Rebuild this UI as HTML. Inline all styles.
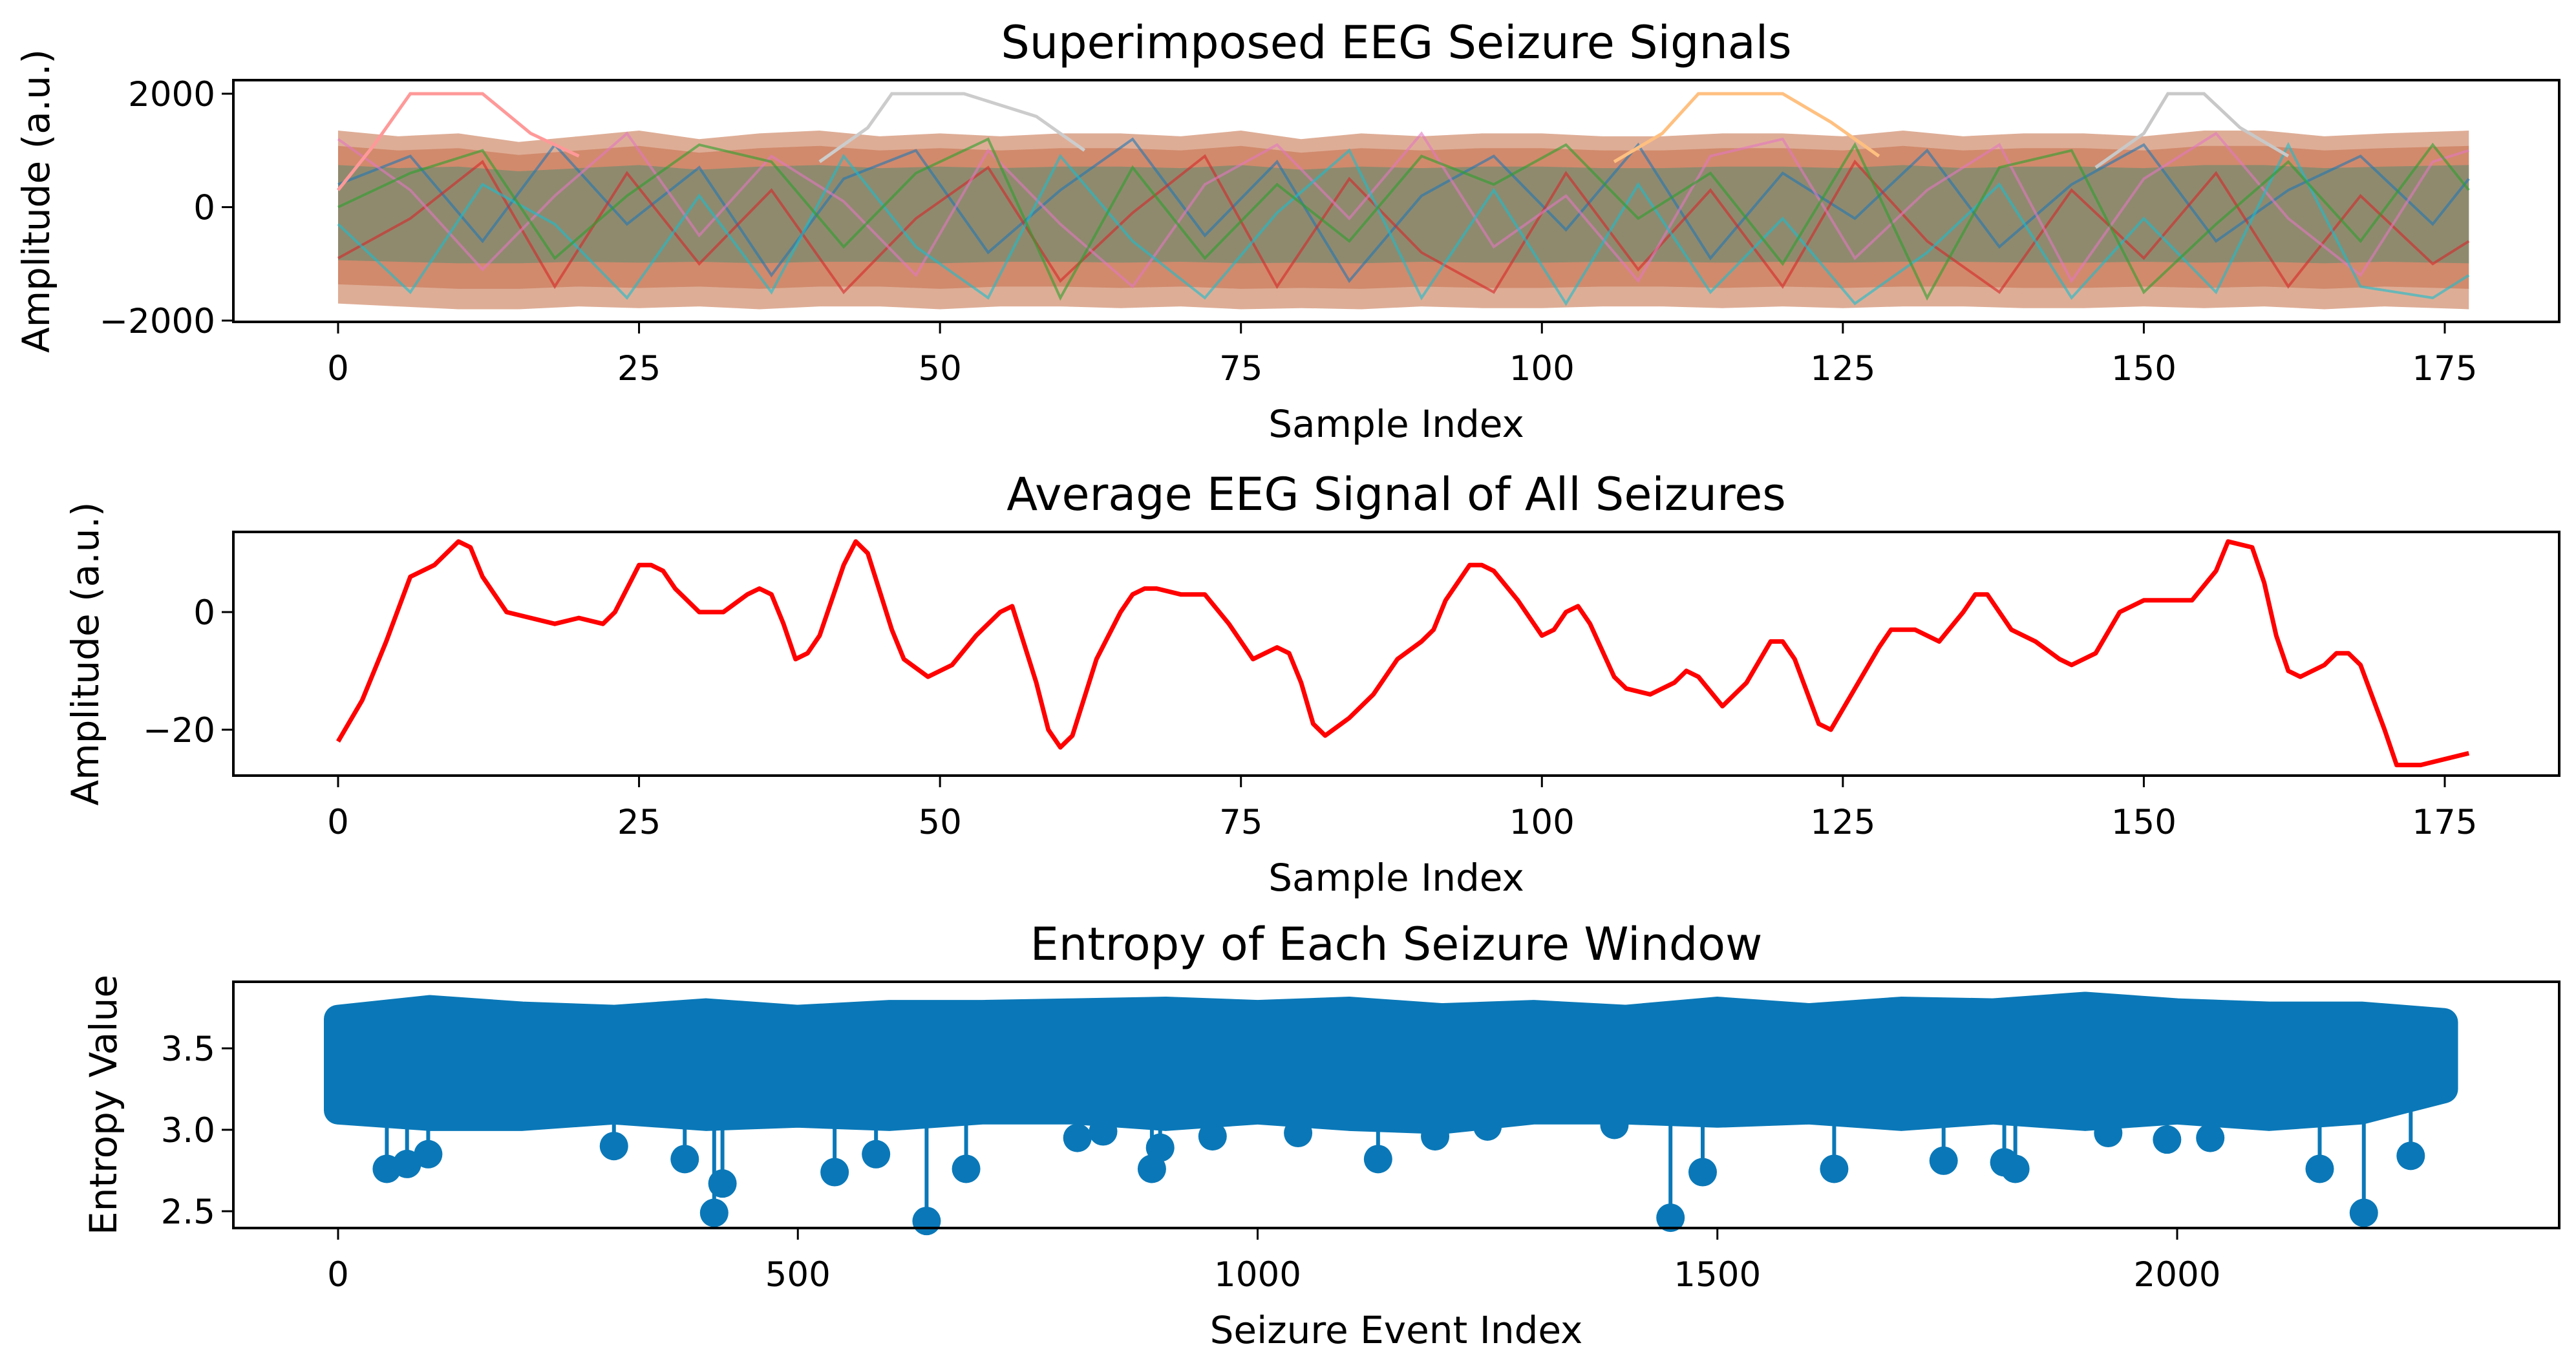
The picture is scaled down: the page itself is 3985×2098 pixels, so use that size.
<!DOCTYPE html>
<html><head><meta charset="utf-8"><style>
html,body{margin:0;padding:0;background:#fff;}
svg{display:block;font-family:"DejaVu Sans","Liberation Sans",sans-serif;}
</style></head><body>
<svg id="fig" width="3985" height="2098" viewBox="0 0 3985 2098" xmlns="http://www.w3.org/2000/svg"></svg>
<script>
// ---------- data ----------
const sigTicksX = [0,25,50,75,100,125,150,175];
const ampTicks = [-2000,0,2000];
const bandIdx = [0,5,10,15,20,25,30,35,40,45,50,55,60,65,70,75,80,85,90,95,100,105,110,115,120,125,130,135,140,145,150,155,160,165,170,177];
const bandUpper = [1350,1250,1300,1150,1250,1350,1200,1300,1350,1250,1300,1250,1300,1300,1250,1350,1200,1300,1250,1300,1300,1250,1250,1300,1300,1250,1350,1250,1300,1300,1250,1350,1350,1250,1300,1350];
const bandLower = [-1700,-1750,-1800,-1800,-1750,-1780,-1750,-1800,-1750,-1750,-1800,-1750,-1750,-1780,-1750,-1800,-1780,-1800,-1750,-1780,-1780,-1750,-1750,-1780,-1750,-1780,-1750,-1750,-1780,-1780,-1750,-1780,-1750,-1800,-1750,-1800];
const peakIdxA = [0,3,6,12,16,20];      const peakValA = [300,1100,2000,2000,1300,900];
const peakIdxB = [40,44,46,52,58,62];   const peakValB = [800,1400,2000,2000,1600,1000];
const peakIdxC = [106,110,113,120,124,128]; const peakValC = [800,1300,2000,2000,1500,900];
const peakIdxD = [146,150,152,155,158,162]; const peakValD = [700,1300,2000,2000,1400,900];
const sIdx = [0,6,12,18,24,30,36,42,48,54,60,66,72,78,84,90,96,102,108,114,120,126,132,138,144,150,156,162,168,174,177];
const s1 = [400,900,-600,1100,-300,700,-1200,500,1000,-800,300,1200,-500,800,-1300,200,900,-400,1100,-900,600,-200,1000,-700,400,1100,-600,300,900,-300,500];
const s2 = [-900,-200,800,-1400,600,-1000,300,-1500,-200,700,-1300,-100,900,-1400,500,-800,-1500,600,-1100,300,-1400,800,-600,-1500,300,-900,600,-1400,200,-1000,-600];
const s3 = [1200,300,-1100,200,1300,-500,900,100,-1200,1000,-300,-1400,400,1100,-200,1300,-700,200,-1300,900,1200,-900,300,1100,-1300,500,1300,-200,-1200,800,1000];
const s4 = [-300,-1500,400,-300,-1600,200,-1500,900,-700,-1600,900,-600,-1600,-100,1000,-1600,300,-1700,400,-1500,-200,-1700,-800,400,-1600,-200,-1500,1100,-1400,-1600,-1200];
const s5 = [0,600,1000,-900,200,1100,800,-700,600,1200,-1600,700,-900,400,-600,900,400,1100,-200,600,-1000,1100,-1600,700,1000,-1500,-300,800,-600,1100,300];
const avgIdx = [0,2,4,6,8,10,11,12,14,16,18,20,22,23,25,26,27,28,30,32,34,35,36,37,38,39,40,42,43,44,46,47,49,51,53,55,56,58,59,60,61,63,65,66,67,68,70,72,74,76,77,78,79,80,81,82,84,86,88,90,91,92,94,95,96,98,100,101,102,103,104,106,107,109,111,112,113,115,117,119,120,121,123,124,126,128,129,131,133,135,136,137,138,139,141,143,144,146,148,150,152,153,154,156,157,159,160,161,162,163,165,166,167,168,170,171,173,177];
const avgVal = [-22,-15,-5,6,8,12,11,6,0,-1,-2,-1,-2,0,8,8,7,4,0,0,3,4,3,-2,-8,-7,-4,8,12,10,-3,-8,-11,-9,-4,0,1,-12,-20,-23,-21,-8,0,3,4,4,3,3,-2,-8,-7,-6,-7,-12,-19,-21,-18,-14,-8,-5,-3,2,8,8,7,2,-4,-3,0,1,-2,-11,-13,-14,-12,-10,-11,-16,-12,-5,-5,-8,-19,-20,-13,-6,-3,-3,-5,0,3,3,0,-3,-5,-8,-9,-7,0,2,2,2,2,7,12,11,5,-4,-10,-11,-9,-7,-7,-9,-20,-26,-26,-24];
const avgTicksY = [-20,0];
const entTicksX = [0,500,1000,1500,2000];
const entTicksY = [2.5,3.0,3.5];
const envIdx = [0,100,200,300,400,500,600,700,800,900,1000,1100,1200,1300,1400,1500,1600,1700,1800,1900,2000,2100,2200,2290];
const envUpper = [3.68,3.74,3.70,3.68,3.72,3.68,3.71,3.71,3.72,3.73,3.71,3.73,3.69,3.71,3.68,3.73,3.69,3.73,3.72,3.76,3.72,3.70,3.70,3.66];
const envLower = [3.12,3.08,3.08,3.12,3.08,3.10,3.08,3.12,3.12,3.08,3.12,3.08,3.06,3.12,3.12,3.10,3.12,3.08,3.12,3.08,3.12,3.08,3.12,3.25];
const outIdx = [53,75,98,300,377,409,418,540,585,640,683,804,832,885,894,951,1044,1131,1193,1250,1388,1449,1484,1627,1746,1812,1824,1925,1989,2036,2155,2203,2254];
const outVal = [2.76,2.79,2.85,2.90,2.82,2.49,2.67,2.74,2.85,2.44,2.76,2.95,2.99,2.76,2.89,2.96,2.98,2.82,2.96,3.02,3.03,2.46,2.74,2.76,2.81,2.80,2.76,2.98,2.94,2.95,2.76,2.49,2.84];

// ---------- helpers ----------
const NS = "http://www.w3.org/2000/svg";
const fig = document.getElementById('fig');
function mk(tag, attrs, parent){ const e=document.createElementNS(NS,tag); for(const k in attrs) e.setAttribute(k,attrs[k]); (parent||fig).appendChild(e); return e; }
const L=361, R=3959;
function lin(d0,d1,p0,p1){ return v=>p0+(v-d0)*(p1-p0)/(d1-d0); }
const tab = ['#1f77b4','#ff7f0e','#2ca02c','#d62728','#9467bd','#8c564b','#e377c2','#7f7f7f','#bcbd22','#17becf'];

function axes(name, top, bottom, xs, ys, xt, yt, yfmt, title, xlabel, ylabel, ylabX){
  const g = mk('g',{});
  
  
  const fr = mk('rect',{x:L,y:top,width:R-L,height:bottom-top,fill:'none',stroke:'#000','stroke-width':4},g);
  
  
  xt.forEach(v=>{ const x=xs(v);
    mk('line',{x1:x,y1:bottom,x2:x,y2:bottom+18,stroke:'#000','stroke-width':3},g);
    const t=mk('text',{x:x,y:bottom+90,'font-size':53,'text-anchor':'middle',fill:'#000'},g); t.textContent=v;
    
    
  });
  yt.forEach(v=>{ const y=ys(v);
    mk('line',{x1:L,y1:y,x2:L-18,y2:y,stroke:'#000','stroke-width':3},g);
    const t=mk('text',{x:L-28,y:y+19,'font-size':53,'text-anchor':'end',fill:'#000'},g); t.textContent=yfmt(v).replace('-','\u2212');
    
    
  });
  const tt=mk('text',{x:(L+R)/2,y:top-34,'font-size':70,'text-anchor':'middle',fill:'#000'},g); tt.textContent=title;
  
  
  const xl=mk('text',{x:(L+R)/2,y:bottom+178,'font-size':58,'text-anchor':'middle',fill:'#000'},g); xl.textContent=xlabel;
  
  
  const cy=(top+bottom)/2;
  const yl=mk('text',{x:ylabX,y:cy,'font-size':58,'text-anchor':'middle',fill:'#000',transform:`rotate(-90 ${ylabX} ${cy})`},g); yl.textContent=ylabel;
  
  
  return g;
}

// ---------- panel 1 ----------
{
  const top=124, bottom=498;
  const xs=lin(0,175,523,3782), ys=lin(-2000,2000,496,145);
  const clip=mk('clipPath',{id:'c1'}); mk('rect',{x:L,y:top,width:R-L,height:bottom-top},clip);
  const g=mk('g',{'clip-path':'url(#c1)'});
  
  
  function bandPath(f){
    let d='M'+bandIdx.map((i,k)=>xs(i)+','+ys(bandUpper[k]*f)).join('L');
    for(let k=bandIdx.length-1;k>=0;k--) d+='L'+xs(bandIdx[k])+','+ys(bandLower[k]*f);
    return d+'Z';
  }
  const band=mk('path',{d:bandPath(1),fill:'#d08a6a',opacity:0.7},g);
  
  
  const mid=mk('path',{d:bandPath(0.8),fill:'#c0603a',opacity:0.45},g);
  
  
  const inner=mk('path',{d:bandPath(0.55),fill:'#3f8a70',opacity:0.45},g);
  
  
  [s1,s2,s3,s4,s5].forEach((s,j)=>{
    const p=mk('polyline',{points:sIdx.map((i,k)=>xs(i)+','+ys(s[k])).join(' '),fill:'none',stroke:tab[(j*3)%10],'stroke-width':4,opacity:0.6},g);
    
    
  });
  [[peakIdxA,peakValA,'#ff9999'],[peakIdxB,peakValB,'#cccccc'],[peakIdxC,peakValC,'#ffc080'],[peakIdxD,peakValD,'#c8c8c8']].forEach(([ix,vv,c])=>{
    const p=mk('polyline',{points:ix.map((i,k)=>xs(i)+','+ys(Math.min(vv[k],2050))).join(' '),fill:'none',stroke:c,'stroke-width':5},g);
    
    
  });
  axes('superimposed',top,bottom,xs,ys,sigTicksX,ampTicks,v=>String(v),'Superimposed EEG Seizure Signals','Sample Index','Amplitude (a.u.)',76);
}
// ---------- panel 2 ----------
{
  const top=823, bottom=1200;
  const xs=lin(0,175,523,3782), ys=lin(-20,0,1129,947);
  const p=mk('polyline',{points:avgIdx.map((i,k)=>xs(i)+','+ys(avgVal[k])).join(' '),fill:'none',stroke:'#ff0000','stroke-width':7,'stroke-linejoin':'round'});
  
  
  axes('average',top,bottom,xs,ys,sigTicksX,avgTicksY,v=>String(v),'Average EEG Signal of All Seizures','Sample Index','Amplitude (a.u.)',152);
}
// ---------- panel 3 ----------
{
  const top=1519, bottom=1900;
  const xs=lin(0,2000,523,3368), ys=lin(2.5,3.5,1874,1622);
  const col='#0a78b8';
  const g=mk('g',{});
  
  
  let d='M'+envIdx.map((i,k)=>xs(i)+','+ys(envUpper[k])).join('L');
  for(let k=envIdx.length-1;k>=0;k--) d+='L'+xs(envIdx[k])+','+ys(envLower[k]);
  const band=mk('path',{d:d+'Z',fill:col,stroke:col,'stroke-width':44,'stroke-linejoin':'round'},g);
  
  
  outIdx.forEach((i,k)=>{
    const x=xs(i);
    const st=mk('line',{x1:x,y1:ys(3.3),x2:x,y2:ys(outVal[k]),stroke:col,'stroke-width':6},g);
    
    
    const c=mk('circle',{cx:x,cy:ys(outVal[k]),r:22,fill:col},g);
    
    
  });
  axes('entropy',top,bottom,xs,ys,entTicksX,entTicksY,v=>v.toFixed(1),'Entropy of Each Seizure Window','Seizure Event Index','Entropy Value',180);
}
</script>
</body></html>
